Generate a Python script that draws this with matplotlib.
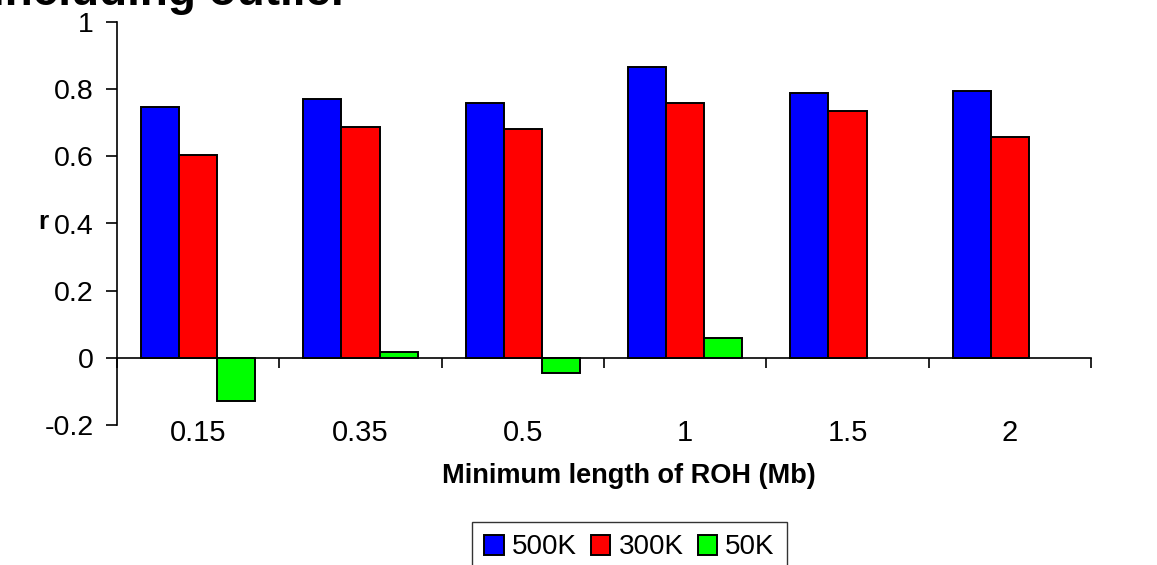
import matplotlib
matplotlib.use("Agg")
import matplotlib.pyplot as plt
import numpy as np

# Correlation r between ROH measures for each minimum ROH length and SNP density
categories = ["0.15", "0.35", "0.5", "1", "1.5", "2"]
series_names = ["500K", "300K", "50K"]
r_500k = [0.746, 0.770, 0.758, 0.866, 0.788, 0.796]
r_300k = [0.603, 0.687, 0.680, 0.758, 0.734, 0.657]
r_50k = [-0.128, 0.016, -0.045, 0.060, np.nan, np.nan]
colors = ["#0000FF", "#FF0000", "#00FF00"]
y_ticks = [-0.2, 0, 0.2, 0.4, 0.6, 0.8, 1]

plt.rcParams["font.family"] = ["Liberation Sans", "DejaVu Sans"]

W, H = 1157, 565
fig = plt.figure(figsize=(W / 100, H / 100), dpi=100)
ax = fig.add_axes([117 / W, 1 - 425 / H, (1091 - 117) / W, (425 - 22) / H])

x = np.arange(len(categories))
bw = 0.235
for i, (vals, col, name) in enumerate(zip([r_500k, r_300k, r_50k], colors, series_names)):
    ax.bar(x + (i - 1) * bw, vals, width=bw, color=col, edgecolor="black",
           linewidth=1.4, label=name, zorder=3)

ax.set_xlim(-0.5, len(categories) - 0.5)
ax.set_ylim(-0.2, 1)

# y axis
ax.set_yticks(y_ticks)
ax.set_yticklabels(["-0.2", "0", "0.2", "0.4", "0.6", "0.8", "1"])
ax.tick_params(axis="y", direction="out", length=8, width=1.2, pad=9, labelsize=20.5)
ax.spines["left"].set_linewidth(1.2)
ax.spines["top"].set_visible(False)
ax.spines["right"].set_visible(False)

# category axis drawn at r = 0 with boundary ticks, labels below the plot
ax.spines["bottom"].set_position(("data", 0))
ax.spines["bottom"].set_linewidth(1.2)
ax.set_xticks(np.arange(len(categories) + 1) - 0.5)
ax.set_xticklabels([])
ax.tick_params(axis="x", which="major", direction="out", length=7, width=1.2)
ax.set_xticks(x, minor=True)
ax.set_xticklabels(categories, minor=True)
ax.tick_params(axis="x", which="minor", length=0, pad=44, labelsize=21)

fig.text(43 / W, 1 - 222 / H, "r", fontsize=19, fontweight="bold",
         ha="center", va="center")
fig.text(629 / W, 1 - 476 / H, "Minimum length of ROH (Mb)", fontsize=19.5,
         fontweight="bold", ha="center", va="center")

# title partially outside the canvas
fig.text(349 / W, 1 - 5 / H, "including outlier", fontsize=33,
         fontweight="bold", ha="right", va="baseline")

leg = fig.legend(loc="upper center", bbox_to_anchor=(629.5 / W, 1 - 522 / H),
                 ncol=3, fontsize=20, frameon=True, fancybox=False,
                 edgecolor="black", handlelength=0.7, handleheight=0.7,
                 handletextpad=0.3, columnspacing=0.5, borderpad=0.45,
                 borderaxespad=0)
leg.get_frame().set_linewidth(1.0)

fig.savefig("out.png", dpi=100)
